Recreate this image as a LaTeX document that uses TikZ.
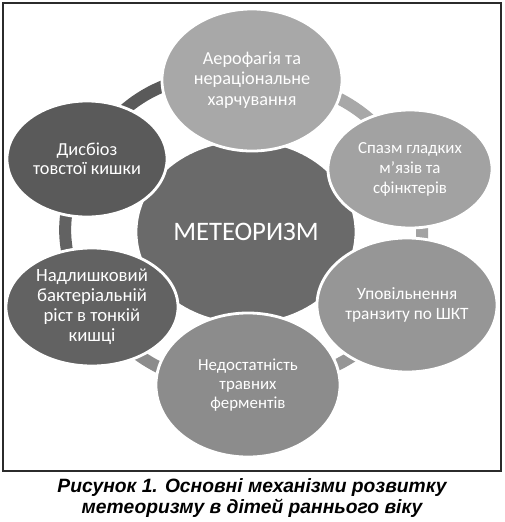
\documentclass[tikz,border=0pt]{standalone}
\usepackage{fontspec}
\setmainfont{Carlito}
\newfontfamily\captionfont{Liberation Sans}
\usepackage{tikz}
\usetikzlibrary{shapes.geometric, backgrounds}
\definecolor{Meteo_Frame}{HTML}{2B2B2B}
\definecolor{Meteo_Centre}{HTML}{6A6A6A}
\definecolor{Meteo_Top}{HTML}{A8A8A8}
\definecolor{Meteo_RightUp}{HTML}{A2A2A2}
\definecolor{Meteo_RightLow}{HTML}{969696}
\definecolor{Meteo_Bottom}{HTML}{8C8C8C}
\definecolor{Meteo_LeftLow}{HTML}{626262}
\definecolor{Meteo_LeftUp}{HTML}{5A5A5A}

\begin{document}
\begin{tikzpicture}[
    x=0.025cm, y=-0.025cm,
    bubble/.style={ellipse, draw=white, line width=2pt, text=white, align=center, inner sep=0pt, font=\fontsize{12}{14.2}\selectfont},
    ring/.style={line width=0.3cm}
]
\useasboundingbox (0,0) rectangle (505,522);

% frame
\draw[Meteo_Frame, line width=0.8pt] (3,3) rectangle (501,471);

% centre
\node[bubble, fill=Meteo_Centre, minimum width=5.5cm, minimum height=4.6cm, font=\fontsize{19}{22}\selectfont] (centre) at (246,232) {МЕТЕОРИЗМ};

% outer ring of causes
\node[bubble, fill=Meteo_Top, minimum width=4.5cm, minimum height=3.55cm, font=\fontsize{13}{14.4}\selectfont] (top) at (252,80) {Аерофагія та\\нераціональне\\харчування};
\node[bubble, fill=Meteo_RightUp, minimum width=4.1cm, minimum height=2.95cm] (rightup) at (410,169) {Спазм гладких\\м'язів та\\сфінктерів};
\node[bubble, fill=Meteo_RightLow, minimum width=4.5cm, minimum height=3.35cm, font=\fontsize{12.3}{13.8}\selectfont] (rightlow) at (407,305) {Уповільнення\\транзиту по ШКТ};
\node[bubble, fill=Meteo_Bottom, minimum width=4.6cm, minimum height=3.6cm, font=\fontsize{12}{13.6}\selectfont] (bottom) at (248,385) {Недостатність\\травних\\ферментів};
\node[bubble, fill=Meteo_LeftLow, minimum width=4.3cm, minimum height=2.95cm, font=\fontsize{13.3}{14.3}\selectfont] (leftlow) at (92,307) {Надлишковий\\бактеріальній\\ріст в тонкій\\кишці};
\node[bubble, fill=Meteo_LeftUp, minimum width=4.0cm, minimum height=2.9cm, font=\fontsize{13}{13.5}\selectfont] (leftup) at (87,159) {Дисбіоз\\товстої кишки};

% cycle segments behind the bubbles
\begin{scope}[on background layer]
\draw[ring, Meteo_Top] (top.center) to[bend left=30] (rightup.center);
\draw[ring, Meteo_RightUp] (rightup.center) to[bend left=20] (rightlow.center);
\draw[ring, Meteo_RightLow] (rightlow.center) to[bend left=25] (bottom.center);
\draw[ring, Meteo_Bottom] (bottom.center) to[bend left=28] (leftlow.center);
\draw[ring, Meteo_LeftLow] (leftlow.center) to[bend left=34] (leftup.center);
\draw[ring, Meteo_LeftUp] (leftup.center) to[bend left=38] (top.center);
\end{scope}

% caption
\node[align=center, text=black, font=\captionfont\bfseries\itshape\fontsize{13.7}{14.4}\selectfont] (caption) at (252,498) {Рисунок 1. Основні механізми розвитку\\метеоризму в дітей раннього віку};

\end{tikzpicture}
\end{document}
